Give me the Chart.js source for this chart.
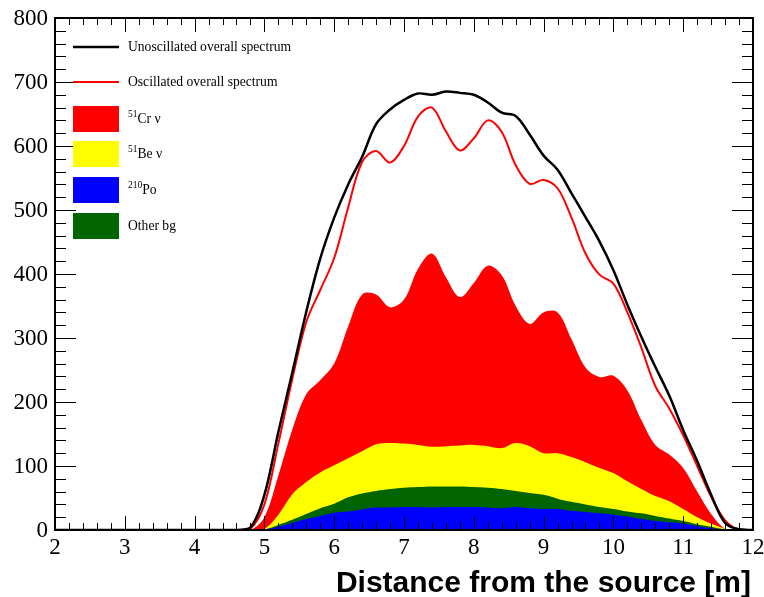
<!DOCTYPE html>
<html>
<head>
<meta charset="utf-8">
<script src="https://cdn.jsdelivr.net/npm/chart.js@4"></script>
<style>
  body { margin: 0; background: #fff; }
  #wrap { width: 764px; height: 597px; position: relative; }
</style>
</head>
<body>
<div id="wrap"><canvas id="spectrum"></canvas></div>
<script>
// distance from the source [m]
const xs = [2.0, 4.6, 4.8, 5.0, 5.2, 5.4, 5.6, 5.8, 6.0, 6.2, 6.4, 6.6, 6.8, 7.0, 7.2, 7.4, 7.6, 7.8,
  8.0, 8.2, 8.4, 8.6, 8.8, 9.0, 9.2, 9.4, 9.6, 9.8, 10.0, 10.2, 10.4, 10.6, 10.8, 11.0, 11.2, 11.4,
  11.6, 11.8, 12.0];

// overall spectra (lines)
const unoscillated = [0, 0, 4, 55, 153, 246, 341, 424, 488, 540, 583, 634, 657, 672, 682, 680, 685, 683,
  680, 668, 652, 647, 618, 585, 563, 526, 489, 451, 406, 352, 302, 255, 210, 156, 108, 55, 11, 1, 0];
const oscillated = [0, 0, 2, 40, 135, 236, 325, 375, 425, 504, 575, 592, 574, 600, 646, 660, 623, 593,
  612, 640, 622, 570, 541, 547, 534, 488, 432, 399, 385, 340, 285, 225, 190, 148, 100, 52, 15, 0, 0];

// stacked contributions, value = top of each layer
const crTop = [0, 0, 0, 20, 85, 157, 212, 234, 260, 318, 368, 368, 348, 360, 408, 432, 395, 364,
  386, 413, 398, 350, 322, 340, 340, 298, 254, 239, 241, 218, 172, 133, 118, 97, 60, 25, 2, 0, 0];
const beTop = [0, 0, 0, 2, 24, 56, 75, 90, 101, 112, 123, 134, 136, 135, 133, 130, 131, 132,
  133, 131, 128, 136, 131, 120, 120, 114, 106, 97, 89, 76, 64, 53, 45, 33, 20, 10, 2, 0, 0];
const otherTop = [0, 0, 0, 1, 8, 16, 25, 34, 41, 51, 57, 61, 64, 66, 67, 68, 68, 68,
  67, 66, 64, 61, 58, 55, 49, 44, 40, 36, 33, 29, 26, 22, 18, 14, 9, 5, 1, 0, 0];
const poTop = [0, 0, 0, 1, 5, 11, 17, 22, 27, 29, 32, 35, 35, 36, 36, 35, 36, 36,
  36, 35, 34, 36, 34, 33, 33, 30, 28, 26, 24, 21, 17, 14, 12, 10, 6, 3, 0, 0, 0];

const xTickLabels = ["2", "3", "4", "5", "6", "7", "8", "9", "10", "11", "12"];
const yTickLabels = ["0", "100", "200", "300", "400", "500", "600", "700", "800"];

const legendItems = [
  { kind: "line", color: "#000000", width: 2.5, sup: "", text: "Unoscillated overall spectrum" },
  { kind: "line", color: "#ff0000", width: 2, sup: "", text: "Oscillated overall spectrum" },
  { kind: "box", color: "#ff0000", sup: "51", text: "Cr \u03bd" },
  { kind: "box", color: "#ffff00", sup: "51", text: "Be \u03bd" },
  { kind: "box", color: "#0000ff", sup: "210", text: "Po" },
  { kind: "box", color: "#006400", sup: "", text: "Other bg" },
];

const pts = (arr) => xs.map((x, i) => ({ x: x, y: arr[i] }));

function area(arr, color, order) {
  return {
    data: pts(arr),
    borderWidth: 0,
    borderColor: color,
    backgroundColor: color,
    fill: "origin",
    pointRadius: 0,
    tension: 0.35,
    order: order,
  };
}

function curve(arr, color, width, order) {
  return {
    data: pts(arr),
    borderColor: color,
    borderWidth: width,
    fill: false,
    pointRadius: 0,
    tension: 0.35,
    order: order,
  };
}

// ROOT style frame with inward ticks on all four sides, labels and legend
const rootFrame = {
  id: "rootFrame",
  afterDraw(chart) {
    const { ctx, chartArea: a, scales } = chart;
    const sx = scales.x, sy = scales.y;
    ctx.save();
    ctx.strokeStyle = "#000";
    ctx.lineWidth = 1;
    ctx.beginPath();
    for (let i = 0; i <= 50; i++) {
      const v = 2 + i * 0.2;
      const px = Math.round(sx.getPixelForValue(v)) + 0.5;
      const len = i % 5 === 0 ? 14 : 7;
      ctx.moveTo(px, a.bottom); ctx.lineTo(px, a.bottom - len);
      ctx.moveTo(px, a.top); ctx.lineTo(px, a.top + len);
    }
    for (let i = 0; i <= 40; i++) {
      const v = i * 20;
      const py = Math.round(sy.getPixelForValue(v)) + 0.5;
      const len = i % 5 === 0 ? 21 : 11;
      ctx.moveTo(a.left, py); ctx.lineTo(a.left + len, py);
      ctx.moveTo(a.right, py); ctx.lineTo(a.right - len, py);
    }
    ctx.stroke();
    ctx.lineWidth = 2;
    ctx.strokeRect(a.left, a.top, a.right - a.left, a.bottom - a.top);

    // tick labels
    ctx.fillStyle = "#000";
    ctx.font = "23px 'Liberation Serif'";
    ctx.textAlign = "center";
    ctx.textBaseline = "top";
    xTickLabels.forEach((t) => {
      ctx.fillText(t, sx.getPixelForValue(Number(t)), a.bottom + 6);
    });
    ctx.textAlign = "right";
    ctx.textBaseline = "middle";
    yTickLabels.forEach((t) => {
      ctx.fillText(t, a.left - 7, sy.getPixelForValue(Number(t)) + 1);
    });

    // axis title
    ctx.font = "bold 30px 'Liberation Sans'";
    ctx.textAlign = "right";
    ctx.textBaseline = "alphabetic";
    ctx.fillText("Distance from the source [m]", a.right - 2, 592);

    // legend
    const lx = 73, tx = 128;
    const rows = [47, 82, 119, 154, 190, 226];
    legendItems.forEach((it, i) => {
      const cy = rows[i];
      if (it.kind === "line") {
        ctx.strokeStyle = it.color;
        ctx.lineWidth = it.width;
        ctx.beginPath();
        ctx.moveTo(lx, cy); ctx.lineTo(lx + 46, cy);
        ctx.stroke();
      } else {
        ctx.fillStyle = it.color;
        ctx.fillRect(lx, cy - 13, 46, 26);
      }
      ctx.fillStyle = "#000";
      ctx.textBaseline = "alphabetic";
      ctx.textAlign = "left";
      let x = tx;
      if (it.sup) {
        ctx.font = "9.5px 'Liberation Serif'";
        ctx.fillText(it.sup, x, cy - 2);
        x += ctx.measureText(it.sup).width;
      }
      ctx.font = "13.6px 'Liberation Serif'";
      ctx.fillText(it.text, x, cy + 4);
    });
    ctx.restore();
  },
};

new Chart(document.getElementById("spectrum"), {
  type: "line",
  data: {
    datasets: [
      curve(unoscillated, "#000000", 2.5, 1),
      curve(oscillated, "#ff0000", 2, 2),
      area(poTop, "#0000ff", 3),
      area(otherTop, "#006400", 4),
      area(beTop, "#ffff00", 5),
      area(crTop, "#ff0000", 6),
    ],
  },
  options: {
    responsive: true,
    maintainAspectRatio: false,
    animation: false,
    layout: { padding: { top: 18, right: 11, left: 0, bottom: 0 } },
    plugins: {
      legend: { display: false },
      tooltip: { enabled: false },
    },
    scales: {
      x: {
        type: "linear",
        min: 2,
        max: 12,
        grid: { display: false, drawTicks: false },
        border: { display: false },
        ticks: { display: false, stepSize: 1 },
        afterFit(scale) { scale.height = 67; },
      },
      y: {
        min: 0,
        max: 800,
        grid: { display: false, drawTicks: false },
        border: { display: false },
        ticks: { display: false, stepSize: 100 },
        afterFit(scale) { scale.width = 55; },
      },
    },
  },
  plugins: [rootFrame],
});
</script>
</body>
</html>
